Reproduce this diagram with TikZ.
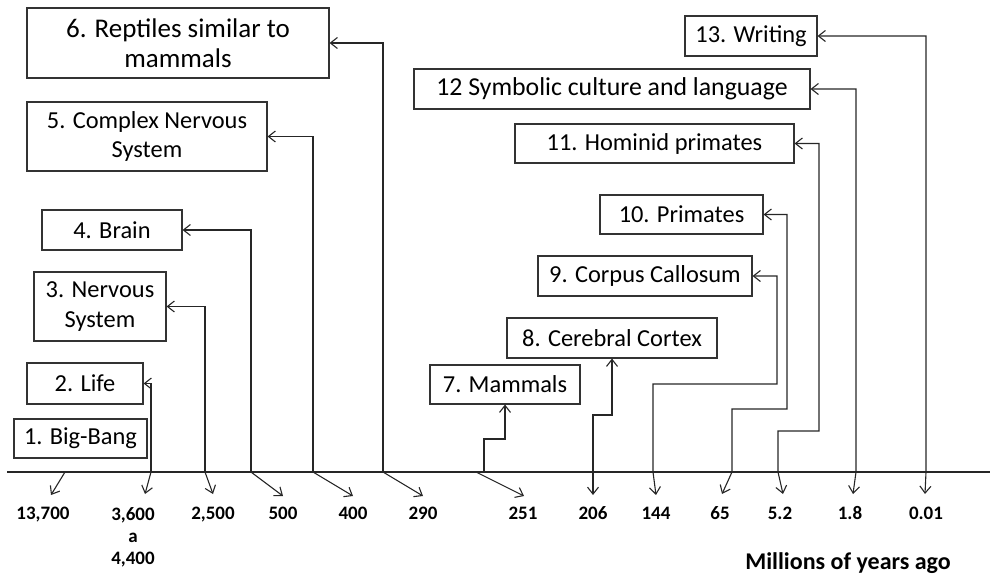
\documentclass[tikz,border=0pt]{standalone}
\usepackage{fontspec}
\setmainfont{Carlito}
\usetikzlibrary{arrows.meta}
\begin{document}
\begin{tikzpicture}[x=1pt,y=-1pt,
  box/.style={draw=black!80,line width=1.1pt,inner sep=0pt,align=center,font=\fontsize{24.4}{29.5}\selectfont},
  conn/.style={draw=black!85,line width=1.1pt,-{Straight Barb[length=7pt,width=11pt]}},
  both/.style={draw=black!85,line width=1.1pt,{Straight Barb[length=7pt,width=11pt]}-{Straight Barb[length=7pt,width=11pt]}},
  plain/.style={draw=black!85,line width=1.1pt},
  yr/.style={font=\fontsize{19}{22}\selectfont\bfseries,inner sep=0pt,align=center,anchor=base},
  ttl/.style={font=\fontsize{24}{28}\selectfont\bfseries,inner sep=0pt}]
\useasboundingbox (0,0) rectangle (990,577);

% boxes
\node[box,minimum width=133pt,minimum height=39pt] (b1) at (80.5,438.5) {1. Big-Bang};
\node[box,minimum width=116pt,minimum height=41pt] (b2) at (85,383.5) {2. Life};
\node[box,minimum width=132pt,minimum height=69pt] (b3) at (100,306.5) {3. Nervous\\System};
\node[box,minimum width=140pt,minimum height=40pt] (b4) at (112,230) {4. Brain};
\node[box,minimum width=240pt,minimum height=69pt] (b5) at (147,136.5) {5. Complex Nervous\\System};
\node[box,minimum width=302pt,minimum height=70pt,font=\fontsize{27}{29.5}\selectfont] (b6) at (178,43) {6. Reptiles similar to\\mammals};
\node[box,minimum width=150pt,minimum height=39pt] (b7) at (505,384.5) {7. Mammals};
\node[box,minimum width=210pt,minimum height=40pt] (b8) at (612,338) {8. Cerebral Cortex};
\node[box,minimum width=214pt,minimum height=40pt] (b9) at (645,276) {9. Corpus Callosum};
\node[box,minimum width=163pt,minimum height=39pt] (b10) at (681.5,214.5) {10. Primates};
\node[box,minimum width=279pt,minimum height=39pt] (b11) at (654.5,143.5) {11. Hominid primates};
\node[box,minimum width=396pt,minimum height=40pt,font=\fontsize{25.8}{29.5}\selectfont] (b12) at (612,89) {12 Symbolic culture and language};
\node[box,minimum width=132pt,minimum height=40pt] (b13) at (751,36) {13. Writing};

% axis
\coordinate (axL) at (7,472);
\coordinate (axR) at (990,472);
\draw[plain] (axL) -- (axR);

% year labels
\node[yr] (l1) at (43,519) {13,700};
\node[yr,anchor=north] (l2) at (133,507) {3,600\\a\\4,400};
\node[yr] (l3) at (213,519) {2,500};
\node[yr] (l4) at (283,519) {500};
\node[yr] (l5) at (353,519) {400};
\node[yr] (l6) at (423,519) {290};
\node[yr] (l7) at (523,519) {251};
\node[yr] (l8) at (593,519) {206};
\node[yr] (l9) at (656,519) {144};
\node[yr] (l10) at (720,519) {65};
\node[yr] (l11) at (780,519) {5.2};
\node[yr] (l12) at (850,519) {1.8};
\node[yr] (l13) at (926,519) {0.01};
\node[ttl] (unit) at (848,563) {Millions of years ago};

% arrow tips above the labels
\coordinate (t1) at (51,495);
\coordinate (t2) at (145,494);
\coordinate (t3) at (213,494);
\coordinate (t4) at (283,496);
\coordinate (t5) at (353,496);
\coordinate (t6) at (423,496);
\coordinate (t7) at (524,496);
\coordinate (t8) at (593,495);
\coordinate (t9) at (656,495);
\coordinate (t10) at (722,494);
\coordinate (t11) at (783,494);
\coordinate (t12) at (853,494);
\coordinate (t13) at (925,494);

% points on the axis
\coordinate (p1) at (65,472);
\coordinate (p2) at (151,472);
\coordinate (p3) at (205,472);
\coordinate (p4) at (251,472);
\coordinate (p5) at (313,472);
\coordinate (p6) at (383,472);
\coordinate (p7) at (476,472);
\coordinate (p7b) at (484,472);
\coordinate (p9) at (653,472);
\coordinate (p10) at (732,472);
\coordinate (p11) at (778,472);
\coordinate (p12) at (856,472);
\coordinate (p13) at (926,472);

% connectors
\draw[conn] (p1) -- (t1);

\draw[conn] (p2) -- (b2.east -| p2) -- (b2.east);
\draw[conn] (p2) -- (t2);

\draw[conn] (p3) -- (b3.east -| p3) -- (b3.east);
\draw[conn] (p3) -- (t3);

\draw[conn] (p4) -- (b4.east -| p4) -- (b4.east);
\draw[conn] (p4) -- (t4);

\draw[conn] (p5) -- (b5.east -| p5) -- (b5.east);
\draw[conn] (p5) -- (t5);

\draw[conn] (p6) -- (b6.east -| p6) -- (b6.east);
\draw[conn] (p6) -- (t6);

\draw[conn] (p7b) -- (484,439) -- (505,439) -- (b7.south);
\draw[conn] (p7) -- (t7);

\draw[both] (t8) -- (593,415) -- (612,415) -- (b8.south);

\draw[both] (t9) -- (p9) -- (653,384) -- (777,384) -- (b9.east -| 777,0) -- (b9.east);

\draw[both] (t10) -- (p10) -- (732,409) -- (787,409) -- (b10.east -| 787,0) -- (b10.east);

\draw[both] (t11) -- (p11) -- (778,431) -- (819,431) -- (b11.east -| 819,0) -- (b11.east);

\draw[both] (t12) -- (p12) -- (b12.east -| p12) -- (b12.east);

\draw[both] (t13) -- (p13) -- (b13.east -| p13) -- (b13.east);
\end{tikzpicture}
\end{document}
